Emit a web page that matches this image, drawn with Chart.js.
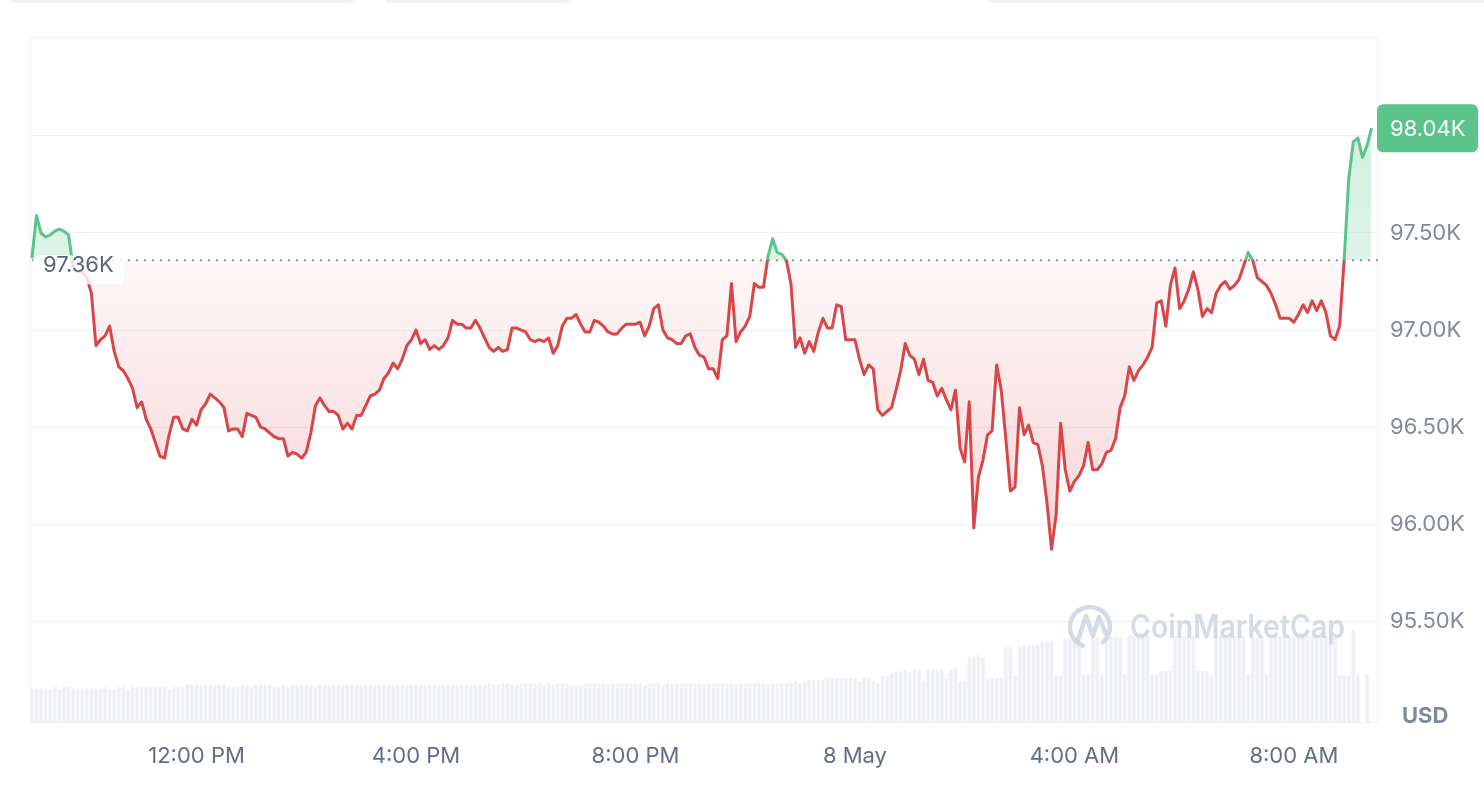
<!DOCTYPE html>
<html>
<head>
<meta charset="utf-8">
<script src="https://cdn.jsdelivr.net/npm/chart.js@4.4.1/dist/chart.umd.min.js"></script>
<style>
  html, body { margin: 0; padding: 0; background: #fff; }
  #wrap { position: relative; width: 1484px; height: 786px; }
</style>
</head>
<body>
<div id="wrap"><canvas id="priceChart" width="1484" height="786"></canvas></div>
<script>
"use strict";

// Data: BTC price (K USD) in 5 minute steps, 7 May 9:00 AM -> 8 May 9:25 AM

const prices = [
  97.37, 97.59, 97.50, 97.48, 97.49, 97.51, 97.52, 97.51, 97.49, 97.33,
  97.30, 97.30, 97.27, 97.19, 96.92, 96.95, 96.97, 97.02, 96.89, 96.81,
  96.79, 96.75, 96.70, 96.60, 96.63, 96.54, 96.49, 96.42, 96.35, 96.34,
  96.46, 96.55, 96.55, 96.49, 96.48, 96.54, 96.51, 96.59, 96.62, 96.67,
  96.65, 96.63, 96.60, 96.48, 96.49, 96.49, 96.45, 96.57, 96.56, 96.55,
  96.50, 96.49, 96.47, 96.45, 96.44, 96.44, 96.35, 96.37, 96.36, 96.34,
  96.37, 96.47, 96.61, 96.65, 96.61, 96.58, 96.58, 96.56, 96.49, 96.52,
  96.49, 96.56, 96.56, 96.61, 96.66, 96.67, 96.69, 96.75, 96.78, 96.83,
  96.80, 96.85, 96.92, 96.95, 97.00, 96.93, 96.95, 96.90, 96.92, 96.90,
  96.92, 96.96, 97.05, 97.03, 97.03, 97.01, 97.01, 97.05, 97.01, 96.96,
  96.91, 96.89, 96.91, 96.89, 96.90, 97.01, 97.01, 97.00, 96.99, 96.95,
  96.94, 96.95, 96.94, 96.96, 96.88, 96.92, 97.02, 97.06, 97.06, 97.08,
  97.03, 96.99, 96.99, 97.05, 97.04, 97.02, 96.99, 96.98, 96.98, 97.01,
  97.03, 97.03, 97.03, 97.04, 96.97, 97.02, 97.11, 97.13, 97.00, 96.96,
  96.95, 96.93, 96.93, 96.97, 96.98, 96.91, 96.87, 96.86, 96.80, 96.80,
  96.75, 96.95, 96.97, 97.24, 96.94, 96.99, 97.02, 97.07, 97.24, 97.22,
  97.22, 97.38, 97.47, 97.40, 97.39, 97.36, 97.24, 96.91, 96.96, 96.88,
  96.94, 96.89, 96.99, 97.06, 97.01, 97.01, 97.13, 97.12, 96.95, 96.95,
  96.95, 96.85, 96.77, 96.82, 96.80, 96.59, 96.56, 96.58, 96.60, 96.69,
  96.79, 96.93, 96.87, 96.85, 96.77, 96.85, 96.74, 96.73, 96.66, 96.70,
  96.64, 96.59, 96.69, 96.39, 96.32, 96.63, 95.98, 96.24, 96.33, 96.46,
  96.48, 96.82, 96.69, 96.44, 96.17, 96.19, 96.60, 96.46, 96.51, 96.42,
  96.41, 96.30, 96.11, 95.87, 96.05, 96.52, 96.28, 96.17, 96.22, 96.25,
  96.30, 96.42, 96.28, 96.28, 96.31, 96.37, 96.38, 96.44, 96.60, 96.66,
  96.81, 96.74, 96.79, 96.82, 96.86, 96.91, 97.14, 97.15, 97.02, 97.23,
  97.32, 97.11, 97.15, 97.21, 97.30, 97.21, 97.07, 97.11, 97.09, 97.19,
  97.23, 97.25, 97.21, 97.23, 97.26, 97.33, 97.40, 97.36, 97.27, 97.25,
  97.23, 97.19, 97.13, 97.06, 97.06, 97.06, 97.04, 97.08, 97.13, 97.09,
  97.15, 97.10, 97.15, 97.09, 96.97, 96.95, 97.02, 97.36, 97.78, 97.97,
  97.99, 97.89, 97.95, 98.04,
];

// Volume per 5 minute step (relative units)
const volumes = [
  48, 48, 48, 48, 48, 52, 48, 52, 52, 48,
  48, 48, 48, 48, 48, 48, 52, 48, 48, 52,
  52, 48, 52, 52, 52, 52, 52, 52, 52, 52,
  48, 52, 52, 52, 55, 55, 55, 55, 55, 55,
  55, 55, 55, 52, 52, 52, 55, 55, 52, 55,
  55, 55, 55, 52, 52, 55, 52, 55, 55, 55,
  55, 55, 52, 55, 55, 55, 55, 55, 55, 55,
  55, 55, 55, 55, 55, 55, 55, 55, 55, 55,
  55, 55, 55, 55, 55, 55, 55, 55, 55, 55,
  55, 55, 55, 55, 55, 55, 55, 55, 55, 55,
  57, 55, 55, 57, 57, 55, 55, 57, 57, 57,
  57, 57, 54, 57, 54, 57, 57, 57, 54, 54,
  54, 57, 57, 57, 57, 57, 57, 57, 57, 57,
  57, 57, 57, 57, 54, 57, 57, 57, 54, 57,
  57, 57, 57, 57, 57, 57, 57, 57, 57, 57,
  57, 57, 57, 57, 57, 57, 57, 57, 57, 57,
  57, 57, 57, 57, 57, 57, 57, 60, 57, 60,
  62, 62, 62, 62, 65, 65, 65, 65, 65, 65,
  65, 60, 65, 65, 60, 57, 68, 68, 71, 74,
  74, 77, 74, 77, 77, 61, 77, 77, 77, 77,
  63, 78, 80, 60, 60, 95, 95, 98, 95, 63,
  65, 65, 65, 110, 110, 68, 110, 112, 113, 113,
  114, 117, 118, 119, 68, 68, 121, 121, 121, 121,
  70, 70, 124, 124, 69, 125, 125, 125, 125, 70,
  126, 126, 126, 126, 126, 70, 70, 75, 75, 75,
  126, 126, 126, 126, 126, 75, 75, 75, 69, 126,
  126, 126, 126, 126, 126, 126, 70, 124, 124, 124,
  70, 126, 126, 126, 126, 126, 126, 126, 126, 126,
  126, 126, 126, 126, 126, 126, 69, 69, 69, 136,
  70, 0, 70, 0,
];

const openPrice = 97.36;
const lastPrice = 98.04;

// x ticks are step indexes (5 min each, step 0 = 9:00 AM)
const timeTicks = [36, 84, 132, 180, 228, 276];
const timeLabels = ["12:00 PM", "4:00 PM", "8:00 PM", "8 May", "4:00 AM", "8:00 AM"];
const priceTicks = [95.5, 96.0, 96.5, 97.0, 97.5, 98.0];

const upColor = "#5bc48a";
const downColor = "#d9464a";
const gridColor = "#eff1f4";
const font = "Inter";
const fontSize = 22;

// Helpers

const rRect = (ctx, x, y, w, h, r) => {
  ctx.beginPath();
  ctx.roundRect(x, y, w, h, r);
};

const overlay = {
  id: "overlay",
  beforeDraw(chart) {
    const { ctx } = chart;
    ctx.save();
    // bits of the page controls above the chart
    ctx.fillStyle = "#f1f2f5";
    rRect(ctx, 8, -20, 348, 23, 8); ctx.fill();
    rRect(ctx, 383, -20, 189, 23, 8); ctx.fill();
    rRect(ctx, 985, -20, 510, 23, 8); ctx.fill();
    ctx.restore();
  },
  beforeDatasetsDraw(chart) {
    const { ctx, chartArea: a } = chart;
    ctx.save();
    ctx.strokeStyle = gridColor;
    ctx.lineWidth = 1;
    ctx.strokeRect(a.left + 0.5, a.top + 0.5, a.right - a.left - 1, a.bottom - a.top);
    ctx.restore();
  },
  afterDatasetsDraw(chart) {
    const { ctx } = chart;
    // watermark
    ctx.save();
    ctx.strokeStyle = "rgba(205,212,227,0.85)";
    ctx.fillStyle = "rgba(205,212,227,0.85)";
    ctx.lineWidth = 4.5;
    ctx.lineCap = "round";
    ctx.lineJoin = "round";
    ctx.beginPath();
    ctx.arc(1090, 627, 20, Math.PI * 0.62, Math.PI * 2.28);
    ctx.stroke();
    ctx.beginPath();
    ctx.moveTo(1078, 640);
    ctx.lineTo(1086, 616);
    ctx.lineTo(1093, 636);
    ctx.lineTo(1099, 617);
    ctx.lineTo(1106, 634);
    ctx.stroke();
    ctx.font = `600 33px ${font}`;
    ctx.textBaseline = "middle";
    const txt = "CoinMarketCap";
    const w = ctx.measureText(txt).width;
    ctx.translate(1130, 628);
    ctx.scale(215 / w, 1);
    ctx.fillText(txt, 0, 0);
    ctx.restore();
  },
  afterDraw(chart) {
    const { ctx, chartArea: a, scales } = chart;
    const yBase = scales.y.getPixelForValue(openPrice);
    const yLast = scales.y.getPixelForValue(lastPrice);
    ctx.save();
    // dotted open price line
    ctx.strokeStyle = "#8f95a3";
    ctx.lineWidth = 2;
    ctx.setLineDash([2, 6]);
    ctx.beginPath();
    ctx.moveTo(a.left + 2, yBase);
    ctx.lineTo(a.right, yBase);
    ctx.stroke();
    ctx.setLineDash([]);

    // open price label
    ctx.fillStyle = "rgba(255,255,255,0.82)";
    rRect(ctx, a.left + 3, yBase - 5, 91, 29, 6);
    ctx.fill();
    ctx.fillStyle = "#58667e";
    ctx.font = `${fontSize}px ${font}`;
    ctx.textBaseline = "middle";
    ctx.fillText(`${openPrice.toFixed(2)}K`, a.left + 13, yBase + 5);

    // last price badge
    ctx.fillStyle = upColor;
    rRect(ctx, a.right - 1, yLast - 24, 101, 48, 6);
    ctx.fill();
    ctx.fillStyle = "#ffffff";
    ctx.fillText(`${lastPrice.toFixed(2)}K`, a.right + 12, yLast + 1);

    // currency
    ctx.fillStyle = "#808a9d";
    ctx.font = `bold ${fontSize}px ${font}`;
    ctx.fillText("USD", 1402, 716);
    ctx.restore();
  },
};

// Chart

const ctx = document.getElementById("priceChart").getContext("2d");
const priceChart = new Chart(ctx, {
  data: {
    datasets: [
      {
        type: "line",
        data: prices.map((p, i) => ({ x: i, y: p })),
        yAxisID: "y",
        borderColor: downColor,
        borderWidth: 3,
        pointRadius: 0,
        tension: 0,
        borderJoinStyle: "round",
        fill: { target: { value: openPrice }, above: upColor, below: downColor },
        order: 0,
      },
      {
        type: "bar",
        data: volumes.map((v, i) => ({ x: i, y: v })),
        yAxisID: "yVol",
        backgroundColor: "#eff0f4",
        barPercentage: 0.8,
        categoryPercentage: 1,
        borderRadius: { topLeft: 2, topRight: 2 },
        borderSkipped: "bottom",
        order: 1,
      },
    ],
  },
  options: {
    responsive: false,
    animation: false,
    events: [],
    layout: { padding: { left: 30, top: 37, right: 0, bottom: 0 } },
    plugins: { legend: { display: false }, tooltip: { enabled: false } },
    scales: {
      x: {
        type: "linear",
        offset: false,
        min: -0.42,
        max: 294.4,
        grid: { display: false },
        border: { display: false },
        afterBuildTicks: (s) => {
          s.ticks = timeTicks.map((v) => ({ value: v }));
        },
        afterFit: (s) => {
          s.height = 64;
        },
        ticks: {
          autoSkip: false,
          maxRotation: 0,
          padding: 13,
          color: "#616e85",
          font: { family: font, size: fontSize },
          callback: (v, i) => timeLabels[i],
        },
      },
      y: {
        position: "right",
        min: 94.98,
        max: 98.51,
        grid: { color: gridColor, drawTicks: false },
        border: { display: false },
        afterBuildTicks: (s) => {
          s.ticks = priceTicks.map((v) => ({ value: v }));
        },
        afterFit: (s) => {
          s.width = 106;
        },
        ticks: {
          padding: 12,
          color: "#808a9d",
          font: { family: font, size: fontSize },
          callback: (v) => `${v.toFixed(2)}K`,
        },
      },
      yVol: {
        display: false,
        min: 0,
        max: 1000,
      },
    },
  },
  plugins: [overlay],
});

// Split colours at the open price

const applyGradients = (chart) => {
  const { ctx, chartArea: a, scales } = chart;
  const yBase = scales.y.getPixelForValue(openPrice);
  const f = (yBase - a.top) / (a.bottom - a.top);

  const stroke = ctx.createLinearGradient(0, a.top, 0, a.bottom);
  stroke.addColorStop(0, upColor);
  stroke.addColorStop(f, upColor);
  stroke.addColorStop(f, downColor);
  stroke.addColorStop(1, downColor);

  const upFill = ctx.createLinearGradient(0, a.top, 0, yBase);
  upFill.addColorStop(0, "rgba(91,196,138,0.32)");
  upFill.addColorStop(1, "rgba(91,196,138,0.20)");

  const downFill = ctx.createLinearGradient(0, yBase, 0, a.bottom);
  downFill.addColorStop(0, "rgba(217,70,74,0.04)");
  downFill.addColorStop(1, "rgba(217,70,74,0.34)");

  const ds = chart.data.datasets[0];
  ds.borderColor = stroke;
  ds.fill = { target: { value: openPrice }, above: upFill, below: downFill };
  chart.update("none");
};

applyGradients(priceChart);
</script>
</body>
</html>
